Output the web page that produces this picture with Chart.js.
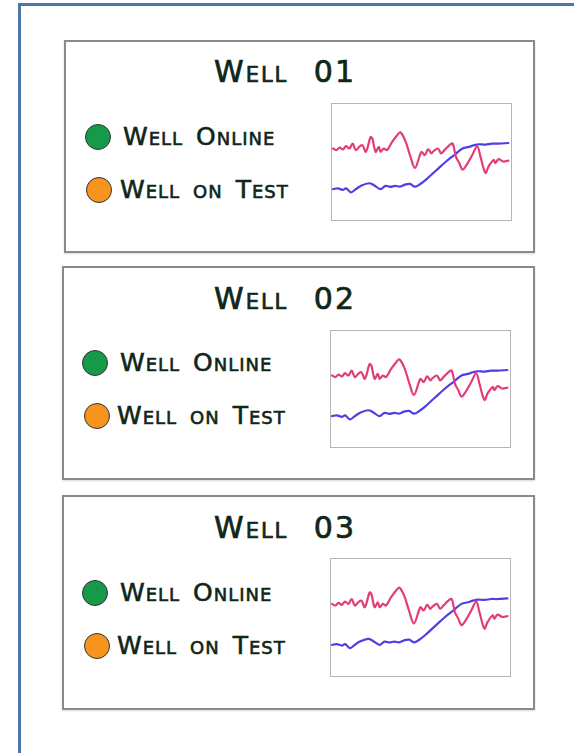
<!DOCTYPE html>
<html>
<head>
<meta charset="utf-8">
<script src="https://cdn.jsdelivr.net/npm/chart.js@4/dist/chart.umd.min.js"></script>
<style>
  html, body { margin: 0; padding: 0; background: #fff; }
  body { width: 574px; height: 753px; position: relative; overflow: hidden; }
  #frame { position: absolute; left: 18px; top: 3px; width: 600px; height: 800px;
           border-left: 3px solid #4a76aa; border-top: 3px solid #4a76aa; }
  .card { position: absolute; border: 2px solid #8a8a8a; box-sizing: border-box;
          box-shadow: 0 1px 2px rgba(0,0,0,0.15); background: #fff; }
  .title { position: absolute; transform: translate(-50%, -50%); white-space: nowrap;
           font-family: 'DejaVu Sans', sans-serif; font-variant: small-caps; font-size: 30px;
           color: #0f2619; letter-spacing: 2px; word-spacing: 14px; -webkit-text-stroke: 0.7px #0f2619; }
  .dot { position: absolute; width: 26px; height: 26px; border-radius: 50%;
         border: 1.5px solid #333; box-sizing: border-box; transform: translate(-50%, -50%); }
  .lbl { position: absolute; white-space: nowrap; font-family: 'DejaVu Sans', sans-serif;
         font-variant: small-caps; font-size: 25px; color: #0f2619; letter-spacing: 1px;
         word-spacing: 4px; transform: translateY(-50%); -webkit-text-stroke: 0.6px #0f2619; }
  .mini { position: absolute; border: 1.5px solid #b5b5b5; box-sizing: border-box; background: #fff; }
  .mini canvas { position: absolute; left: 0; top: 0; }
</style>
</head>
<body>
<div id="frame"></div>
<script>
// ---- data ----
const wellNames = ['Well 01', 'Well 02', 'Well 03'];
const legendLabels = ['Well Online', 'Well on Test'];
const legendColors = ['#17994a', '#f7941d'];

// pink trend (x as % of width, y as % of height)
const pinkX = [0.6, 2.4, 4.2, 6.1, 7.9, 9.8, 11.6, 13.4, 15.3, 17.1, 19.0, 21.7, 22.7, 24.5, 26.3, 27.3, 29.1, 30.9, 33.7, 36.5, 38.3, 41.1, 43.8, 46.6, 49.4, 50.3, 52.1, 54.0, 55.8, 56.7, 59.5, 61.3, 63.2, 65.9, 67.8, 69.6, 71.5, 73.3, 75.1, 78.8, 81.6, 83.4, 86.2, 88.0, 90.8, 91.7, 93.6, 96.3, 99.1];
const pinkY = [61.3, 59.9, 62.1, 60.5, 63.3, 61.3, 65.5, 59.9, 62.7, 64.1, 58.5, 71.2, 69.8, 58.5, 62.7, 58.5, 61.3, 59.9, 66.9, 72.6, 75.4, 68.4, 55.6, 44.4, 55.6, 58.5, 55.6, 60.5, 57.1, 58.5, 61.3, 57.1, 59.9, 64.1, 65.5, 54.2, 48.6, 42.9, 45.8, 55.6, 63.3, 54.2, 40.1, 45.8, 51.4, 48.6, 52.0, 50.0, 50.8];

// blue trend
const blueX = [0.6, 3.3, 6.1, 7.9, 10.7, 13.4, 16.2, 20.8, 23.6, 27.3, 30.0, 32.8, 35.5, 38.3, 41.1, 43.8, 46.6, 49.4, 53.0, 58.6, 64.1, 68.7, 73.3, 77.0, 79.7, 82.5, 86.2, 89.9, 93.6, 99.1];
const blueY = [26.0, 26.6, 25.4, 26.6, 23.2, 26.0, 28.8, 31.1, 29.4, 26.0, 28.8, 28.0, 28.8, 28.2, 29.9, 30.5, 28.2, 30.2, 34.5, 42.4, 50.0, 55.6, 61.3, 62.7, 64.1, 65.0, 64.7, 65.5, 65.5, 66.1];

// ---- layout ----
const cards = [
  { left: 64, top: 40, w: 471, h: 213, title: [219, 29], dots: [[32, 95], [33, 148]], lblX: 57, chart: [265, 61, 181, 118] },
  { left: 62, top: 266, w: 473, h: 214, title: [221, 30], dots: [[31, 95], [33, 148]], lblX: 56, chart: [266, 62, 181, 118] },
  { left: 62, top: 495, w: 473, h: 215, title: [221, 30], dots: [[31, 96], [33, 149]], lblX: 56, chart: [266, 61, 181, 119] }
];

function pts(xs, ys) { return xs.map((x, i) => ({ x: x, y: ys[i] })); }

cards.forEach((c, idx) => {
  const card = document.createElement('div');
  card.className = 'card';
  Object.assign(card.style, { left: c.left + 'px', top: c.top + 'px', width: c.w + 'px', height: c.h + 'px' });
  document.body.appendChild(card);

  const t = document.createElement('div');
  t.className = 'title';
  t.textContent = wellNames[idx];
  Object.assign(t.style, { left: c.title[0] + 'px', top: c.title[1] + 'px' });
  card.appendChild(t);

  legendLabels.forEach((lab, j) => {
    const d = document.createElement('div');
    d.className = 'dot';
    d.style.background = legendColors[j];
    Object.assign(d.style, { left: c.dots[j][0] + 'px', top: c.dots[j][1] + 'px' });
    card.appendChild(d);
    const l = document.createElement('div');
    l.className = 'lbl';
    l.textContent = lab;
    Object.assign(l.style, { left: (c.lblX - (j ? 3 : 0)) + 'px', top: (c.dots[j][1] - 1) + 'px' });
    card.appendChild(l);
  });

  const box = document.createElement('div');
  box.className = 'mini';
  const [cx, cy, cw, ch] = c.chart;
  Object.assign(box.style, { left: cx + 'px', top: cy + 'px', width: cw + 'px', height: ch + 'px' });
  card.appendChild(box);
  const cv = document.createElement('canvas');
  cv.width = cw - 3; cv.height = ch - 3;
  cv.style.width = (cw - 3) + 'px'; cv.style.height = (ch - 3) + 'px';
  box.appendChild(cv);

  new Chart(cv, {
    type: 'line',
    data: {
      datasets: [
        { data: pts(pinkX, pinkY), borderColor: '#e23d78', borderWidth: 2.2, pointRadius: 0, tension: 0.35, fill: false, borderCapStyle: 'round', borderJoinStyle: 'round' },
        { data: pts(blueX, blueY), borderColor: '#4e3fe4', borderWidth: 2.2, pointRadius: 0, tension: 0.35, fill: false, borderCapStyle: 'round', borderJoinStyle: 'round' }
      ]
    },
    options: {
      responsive: false,
      animation: false,
      devicePixelRatio: 1,
      layout: { padding: 0 },
      plugins: { legend: { display: false }, tooltip: { enabled: false }, title: { display: false } },
      scales: {
        x: { type: 'linear', min: 0, max: 100, display: false },
        y: { min: 0, max: 100, display: false }
      }
    }
  });
});
</script>
</body>
</html>
